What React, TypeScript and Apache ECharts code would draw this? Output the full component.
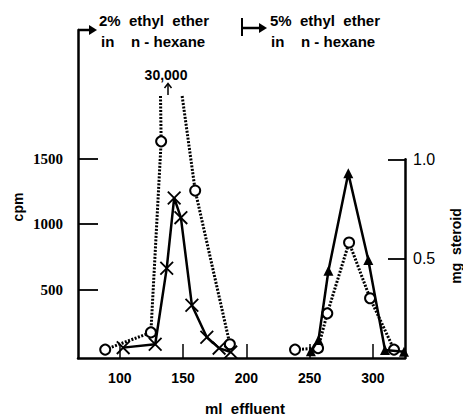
import React, { useEffect, useRef } from "react";
import * as echarts from "echarts";

// ---- data ----
const xTicks = [100, 150, 200, 250, 300];
const cpmTicks = [500, 1000, 1500];
const mgTicks = [0.5, 1.0];

// open circles, dotted line (cpm), first peak (goes off scale to 30,000)
const cpmCirclesFirstRise: number[][] = [[88.5, 45], [124.6, 176], [132.7, 1631]];
const cpmCirclesFirstFall: number[][] = [[159.6, 1256], [187, 86]];
const offScaleRiseMl = 132.2;
const offScaleFallMl = 149.3;
const offScaleCutCpm = 1976;
const offScalePeakLabel = "30,000";

// open circles, dotted line (cpm), second peak
const cpmCirclesSecond: number[][] = [
  [238.5, 45], [256.7, 56], [264, 321], [281.2, 861], [297.8, 436], [316.7, 45],
];

// crosses, solid line (cpm)
const cpmCrosses: number[][] = [
  [102.7, 60], [128, 86], [137.1, 664], [143, 1200], [148.3, 1050],
  [157, 383], [168.8, 139], [178.5, 56], [187.7, 26],
];

// filled triangles, solid line (mg steroid)
const mgTriangles: number[][] = [
  [251, 0.03], [257, 0.087], [264.9, 0.437], [280.6, 0.929],
  [296.4, 0.491], [309.6, 0.037], [324.6, 0.028],
];

const X_MIN = 67;
const X_MAX = 325.4;

const SANS = "Liberation Sans";
const SERIF = "Liberation Serif";

const crossPath =
  "path://M0,1.3 L1.3,0 L14,12.7 L12.7,14 Z M12.7,0 L14,1.3 L1.3,14 L0,12.7 Z";

export default function App() {
  const ref = useRef<HTMLDivElement>(null);

  useEffect(() => {
    if (!ref.current) return;
    const chart = echarts.init(ref.current, undefined, { renderer: "svg" });

    const dotted = { type: [2, 1.5] as any, width: 3, color: "#000" };
    const circleItem = { color: "#fff", borderColor: "#000", borderWidth: 2 };

    const option: any = {
      animation: false,
      backgroundColor: "#fff",
      grid: [
        { left: 78, right: 58, top: 30, bottom: 60, containLabel: false },
        { left: 78, right: 58, top: 159.3, bottom: 60, containLabel: false },
      ],
      xAxis: [
        {
          gridIndex: 0,
          type: "value",
          min: X_MIN,
          max: X_MAX,
          splitLine: { show: false },
          axisLine: { show: true, onZero: false, lineStyle: { color: "#000", width: 2.5 } },
          axisTick: {
            show: true,
            inside: true,
            length: 14,
            customValues: xTicks,
            lineStyle: { color: "#000", width: 1.5 },
          },
          axisLabel: {
            customValues: xTicks,
            formatter: (v: number) => String(v),
            color: "#000",
            fontFamily: SANS,
            fontWeight: "bold",
            fontSize: 14,
            margin: 13,
          },
        },
        {
          gridIndex: 1,
          type: "value",
          min: X_MIN,
          max: X_MAX,
          show: false,
        },
      ],
      yAxis: [
        {
          gridIndex: 0,
          type: "value",
          position: "left",
          min: -19,
          max: 2479,
          splitLine: { show: false },
          axisLine: { show: true, onZero: false, lineStyle: { color: "#000", width: 2.5 } },
          axisTick: {
            show: true,
            inside: true,
            length: 20,
            customValues: cpmTicks,
            lineStyle: { color: "#000", width: 1.8 },
          },
          axisLabel: {
            customValues: cpmTicks,
            formatter: (v: number) => String(v),
            color: "#000",
            fontFamily: SERIF,
            fontWeight: "bold",
            fontSize: 15,
            margin: 15,
          },
        },
        {
          gridIndex: 1,
          type: "value",
          position: "right",
          min: -0.0035,
          max: 1.0,
          splitLine: { show: false },
          axisLine: { show: true, onZero: false, lineStyle: { color: "#000", width: 2.5 } },
          axisTick: {
            show: true,
            inside: true,
            length: 17,
            customValues: mgTicks,
            lineStyle: { color: "#000", width: 1.8 },
          },
          axisLabel: {
            customValues: mgTicks,
            formatter: (v: number) => v.toFixed(1),
            color: "#000",
            fontFamily: SANS,
            fontSize: 16,
            margin: 8,
          },
        },
      ],
      series: [
        {
          type: "line",
          xAxisIndex: 0,
          yAxisIndex: 0,
          data: [
            ...cpmCirclesFirstRise,
            { value: [offScaleRiseMl, offScaleCutCpm], symbol: "none" },
          ],
          lineStyle: dotted,
          symbol: "circle",
          symbolSize: 10,
          itemStyle: circleItem,
          z: 3,
        },
        {
          type: "line",
          xAxisIndex: 0,
          yAxisIndex: 0,
          data: [
            { value: [offScaleFallMl, offScaleCutCpm], symbol: "none" },
            ...cpmCirclesFirstFall,
          ],
          lineStyle: dotted,
          symbol: "circle",
          symbolSize: 10,
          itemStyle: circleItem,
          z: 3,
        },
        {
          type: "line",
          xAxisIndex: 0,
          yAxisIndex: 0,
          data: cpmCirclesSecond,
          lineStyle: dotted,
          symbol: "circle",
          symbolSize: 10,
          itemStyle: circleItem,
          z: 3,
        },
        {
          type: "line",
          xAxisIndex: 0,
          yAxisIndex: 0,
          data: cpmCrosses,
          lineStyle: { type: "solid", width: 2.5, color: "#000" },
          symbol: crossPath,
          symbolSize: 14,
          itemStyle: { color: "#000" },
          z: 4,
        },
        {
          type: "line",
          xAxisIndex: 1,
          yAxisIndex: 1,
          data: mgTriangles,
          lineStyle: { type: "solid", width: 2.5, color: "#000" },
          symbol: "triangle",
          symbolSize: 10,
          itemStyle: { color: "#000" },
          z: 4,
        },
      ],
      graphic: [
        // arrow from top of left axis
        {
          type: "polyline",
          shape: { points: [[78, 30], [91, 30]] },
          style: { stroke: "#000", lineWidth: 2.5, fill: null },
        },
        {
          type: "polygon",
          shape: { points: [[89, 25], [97, 30], [89, 35]] },
          style: { fill: "#000" },
        },
        // |-> solvent change marker
        {
          type: "line",
          shape: { x1: 242, y1: 18, x2: 242, y2: 36 },
          style: { stroke: "#000", lineWidth: 2 },
        },
        {
          type: "line",
          shape: { x1: 242, y1: 28, x2: 261, y2: 28 },
          style: { stroke: "#000", lineWidth: 2.5 },
        },
        {
          type: "polygon",
          shape: { points: [[259, 23], [267, 28], [259, 33]] },
          style: { fill: "#000" },
        },
        {
          type: "text",
          x: 99,
          y: 20,
          style: {
            text: "2%  ethyl  ether",
            fill: "#000",
            fontFamily: SANS,
            fontWeight: "bold",
            fontSize: 15,
            align: "left",
            verticalAlign: "middle",
          },
        },
        {
          type: "text",
          x: 101,
          y: 41,
          style: {
            text: "in    n - hexane",
            fill: "#000",
            fontFamily: SANS,
            fontWeight: "bold",
            fontSize: 15,
            align: "left",
            verticalAlign: "middle",
          },
        },
        {
          type: "text",
          x: 270,
          y: 20,
          style: {
            text: "5%  ethyl  ether",
            fill: "#000",
            fontFamily: SANS,
            fontWeight: "bold",
            fontSize: 15,
            align: "left",
            verticalAlign: "middle",
          },
        },
        {
          type: "text",
          x: 271,
          y: 41,
          style: {
            text: "in    n - hexane",
            fill: "#000",
            fontFamily: SANS,
            fontWeight: "bold",
            fontSize: 15,
            align: "left",
            verticalAlign: "middle",
          },
        },
        // off-scale peak annotation
        {
          type: "text",
          x: 166,
          y: 75,
          style: {
            text: offScalePeakLabel,
            fill: "#000",
            fontFamily: SANS,
            fontWeight: "bold",
            fontSize: 14,
            align: "center",
            verticalAlign: "middle",
          },
        },
        {
          type: "line",
          shape: { x1: 168, y1: 84, x2: 168, y2: 95 },
          style: { stroke: "#000", lineWidth: 1.5 },
        },
        {
          type: "polyline",
          shape: { points: [[164.5, 88], [168, 83.5], [171.5, 88]] },
          style: { stroke: "#000", lineWidth: 1.5, fill: null },
        },
        // axis titles
        {
          type: "text",
          x: 18,
          y: 207,
          rotation: Math.PI / 2,
          style: {
            text: "cpm",
            fill: "#000",
            fontFamily: SANS,
            fontWeight: "bold",
            fontSize: 14,
            align: "center",
            verticalAlign: "middle",
          },
        },
        {
          type: "text",
          x: 456,
          y: 246,
          rotation: Math.PI / 2,
          style: {
            text: "mg  steroid",
            fill: "#000",
            fontFamily: SANS,
            fontWeight: "bold",
            fontSize: 14,
            align: "center",
            verticalAlign: "middle",
          },
        },
        {
          type: "text",
          x: 245,
          y: 408,
          style: {
            text: "ml  effluent",
            fill: "#000",
            fontFamily: SANS,
            fontWeight: "bold",
            fontSize: 15,
            align: "center",
            verticalAlign: "middle",
          },
        },
      ],
    };

    chart.setOption(option);
    return () => chart.dispose();
  }, []);

  return (
    <div
      ref={ref}
      style={{ position: "fixed", left: 0, top: 0, width: 463, height: 418, background: "#fff" }}
    />
  );
}
